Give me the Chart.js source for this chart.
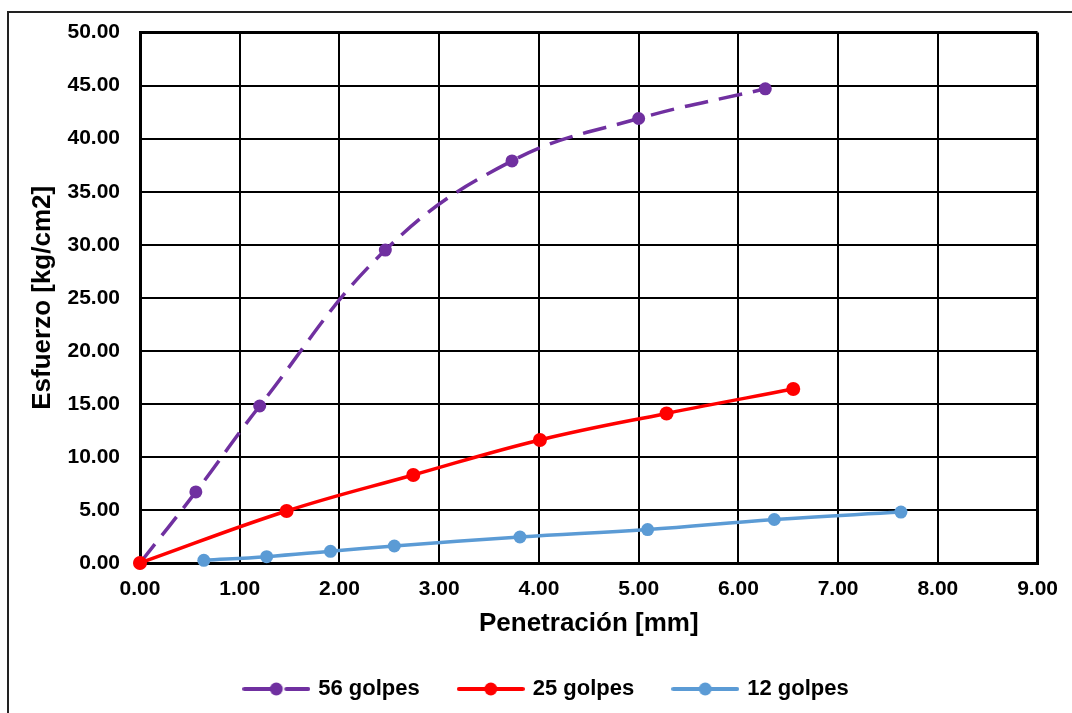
<!DOCTYPE html>
<html><head><meta charset="utf-8">
<script src="https://cdn.jsdelivr.net/npm/chart.js"></script>
<style>html,body{margin:0;padding:0;background:#fff}canvas{display:block}</style>
</head><body>
<canvas id="c" width="1072" height="713"></canvas>
<script>
const seriesNames = ['56 golpes', '25 golpes', '12 golpes'];
const s56x = [0, 0.56, 1.20, 2.46, 3.73, 5.00, 6.27];
const s56y = [0, 6.7, 14.8, 29.5, 37.9, 41.9, 44.7];
const s25x = [0, 1.47, 2.74, 4.01, 5.28, 6.55];
const s25y = [0, 4.9, 8.3, 11.6, 14.1, 16.4];
const s12x = [0.64, 1.27, 1.91, 2.55, 3.81, 5.09, 6.36, 7.63];
const s12y = [0.25, 0.6, 1.1, 1.6, 2.45, 3.15, 4.1, 4.8];
const xTickStep = 1, xMin = 0, xMax = 9;
const yTickStep = 5, yMin = 0, yMax = 50;
const colors = ['#7030A0', '#FF0000', '#5B9BD5'];

const FONT = "'Liberation Sans', Arial, sans-serif";
const pts = (xs, ys) => xs.map((x, i) => ({x, y: ys[i]}));

function makeIcon(color, dashed) {
  const c = document.createElement('canvas');
  c.width = 68; c.height = 16;
  const g = c.getContext('2d');
  g.strokeStyle = color; g.lineWidth = 4; g.lineCap = 'round';
  g.beginPath();
  if (dashed) { g.moveTo(2, 8); g.lineTo(28, 8); g.moveTo(44, 8); g.lineTo(66, 8); }
  else { g.moveTo(2, 8); g.lineTo(66, 8); }
  g.stroke();
  g.fillStyle = color;
  g.beginPath(); g.arc(34, 8, 6.5, 0, Math.PI * 2); g.fill();
  return c;
}
const icons = [makeIcon(colors[0], true), makeIcon(colors[1], false), makeIcon(colors[2], false)];

const outerBorder = {
  id: 'outerBorder',
  beforeDraw(chart) {
    const g = chart.ctx;
    g.save();
    g.fillStyle = '#fff';
    g.fillRect(0, 0, chart.width, chart.height);
    g.strokeStyle = '#222'; g.lineWidth = 2;
    g.beginPath();
    g.moveTo(8, 713); g.lineTo(8, 12); g.lineTo(1072, 12);
    g.stroke();
    g.restore();
  }
};

new Chart(document.getElementById('c'), {
  type: 'line',
  data: {
    datasets: [
      { label: seriesNames[0], data: pts(s56x, s56y), borderColor: colors[0], backgroundColor: colors[0],
        borderWidth: 3.5, borderDash: [24, 11], pointRadius: 6.5, pointBorderWidth: 0, tension: 0.4, order: 1, clip: false },
      { label: seriesNames[1], data: pts(s25x, s25y), borderColor: colors[1], backgroundColor: colors[1],
        borderWidth: 3.5, pointRadius: 7, pointBorderWidth: 0, tension: 0.4, order: 0, clip: false },
      { label: seriesNames[2], data: pts(s12x, s12y), borderColor: colors[2], backgroundColor: colors[2],
        borderWidth: 3.5, pointRadius: 6.5, pointBorderWidth: 0, tension: 0.4, order: 2, clip: false }
    ]
  },
  options: {
    responsive: false,
    animation: false,
    devicePixelRatio: 1,
    layout: { padding: { left: 54, right: 32, top: 32, bottom: 3 } },
    plugins: {
      tooltip: { enabled: false },
      legend: {
        position: 'bottom',
        labels: {
          usePointStyle: true,
          pointStyleWidth: 62,
          padding: 40,
          color: '#000',
          font: { family: FONT, size: 22, weight: 'bold' },
          sort: (a, b) => a.datasetIndex - b.datasetIndex,
          generateLabels(chart) {
            const items = Chart.defaults.plugins.legend.labels.generateLabels(chart);
            items.forEach(it => { it.pointStyle = icons[it.datasetIndex]; });
            return items;
          }
        }
      }
    },
    scales: {
      x: {
        type: 'linear', min: xMin, max: xMax,
        afterFit(scale) { scale.height = 75; },
        ticks: { stepSize: xTickStep, padding: 14, color: '#000', maxRotation: 0,
          font: { family: FONT, size: 21, weight: 'bold' },
          callback: v => Number(v).toFixed(2) },
        grid: { color: '#000', lineWidth: c => (c.tick && c.tick.value === xMax) ? 3 : 2, drawTicks: false },
        border: { color: '#000', width: 3 },
        title: { display: true, text: 'Penetración [mm]', color: '#000',
          font: { family: FONT, size: 26, weight: 'bold' }, padding: { top: 0, bottom: -1.6 } }
      },
      y: {
        type: 'linear', min: yMin, max: yMax,
        afterFit(scale) { scale.width = 86; },
        ticks: { stepSize: yTickStep, padding: 20, color: '#000',
          font: { family: FONT, size: 21, weight: 'bold' },
          callback: v => Number(v).toFixed(2) },
        grid: { color: '#000', lineWidth: c => (c.tick && c.tick.value === yMax) ? 3 : 2, drawTicks: false },
        border: { color: '#000', width: 3 },
        title: { display: true, text: 'Esfuerzo [kg/cm2]', color: '#000',
          font: { family: FONT, size: 26, weight: 'bold' }, padding: { top: -26.6, bottom: 0 } }
      }
    }
  },
  plugins: [outerBorder]
});
</script>
</body></html>
